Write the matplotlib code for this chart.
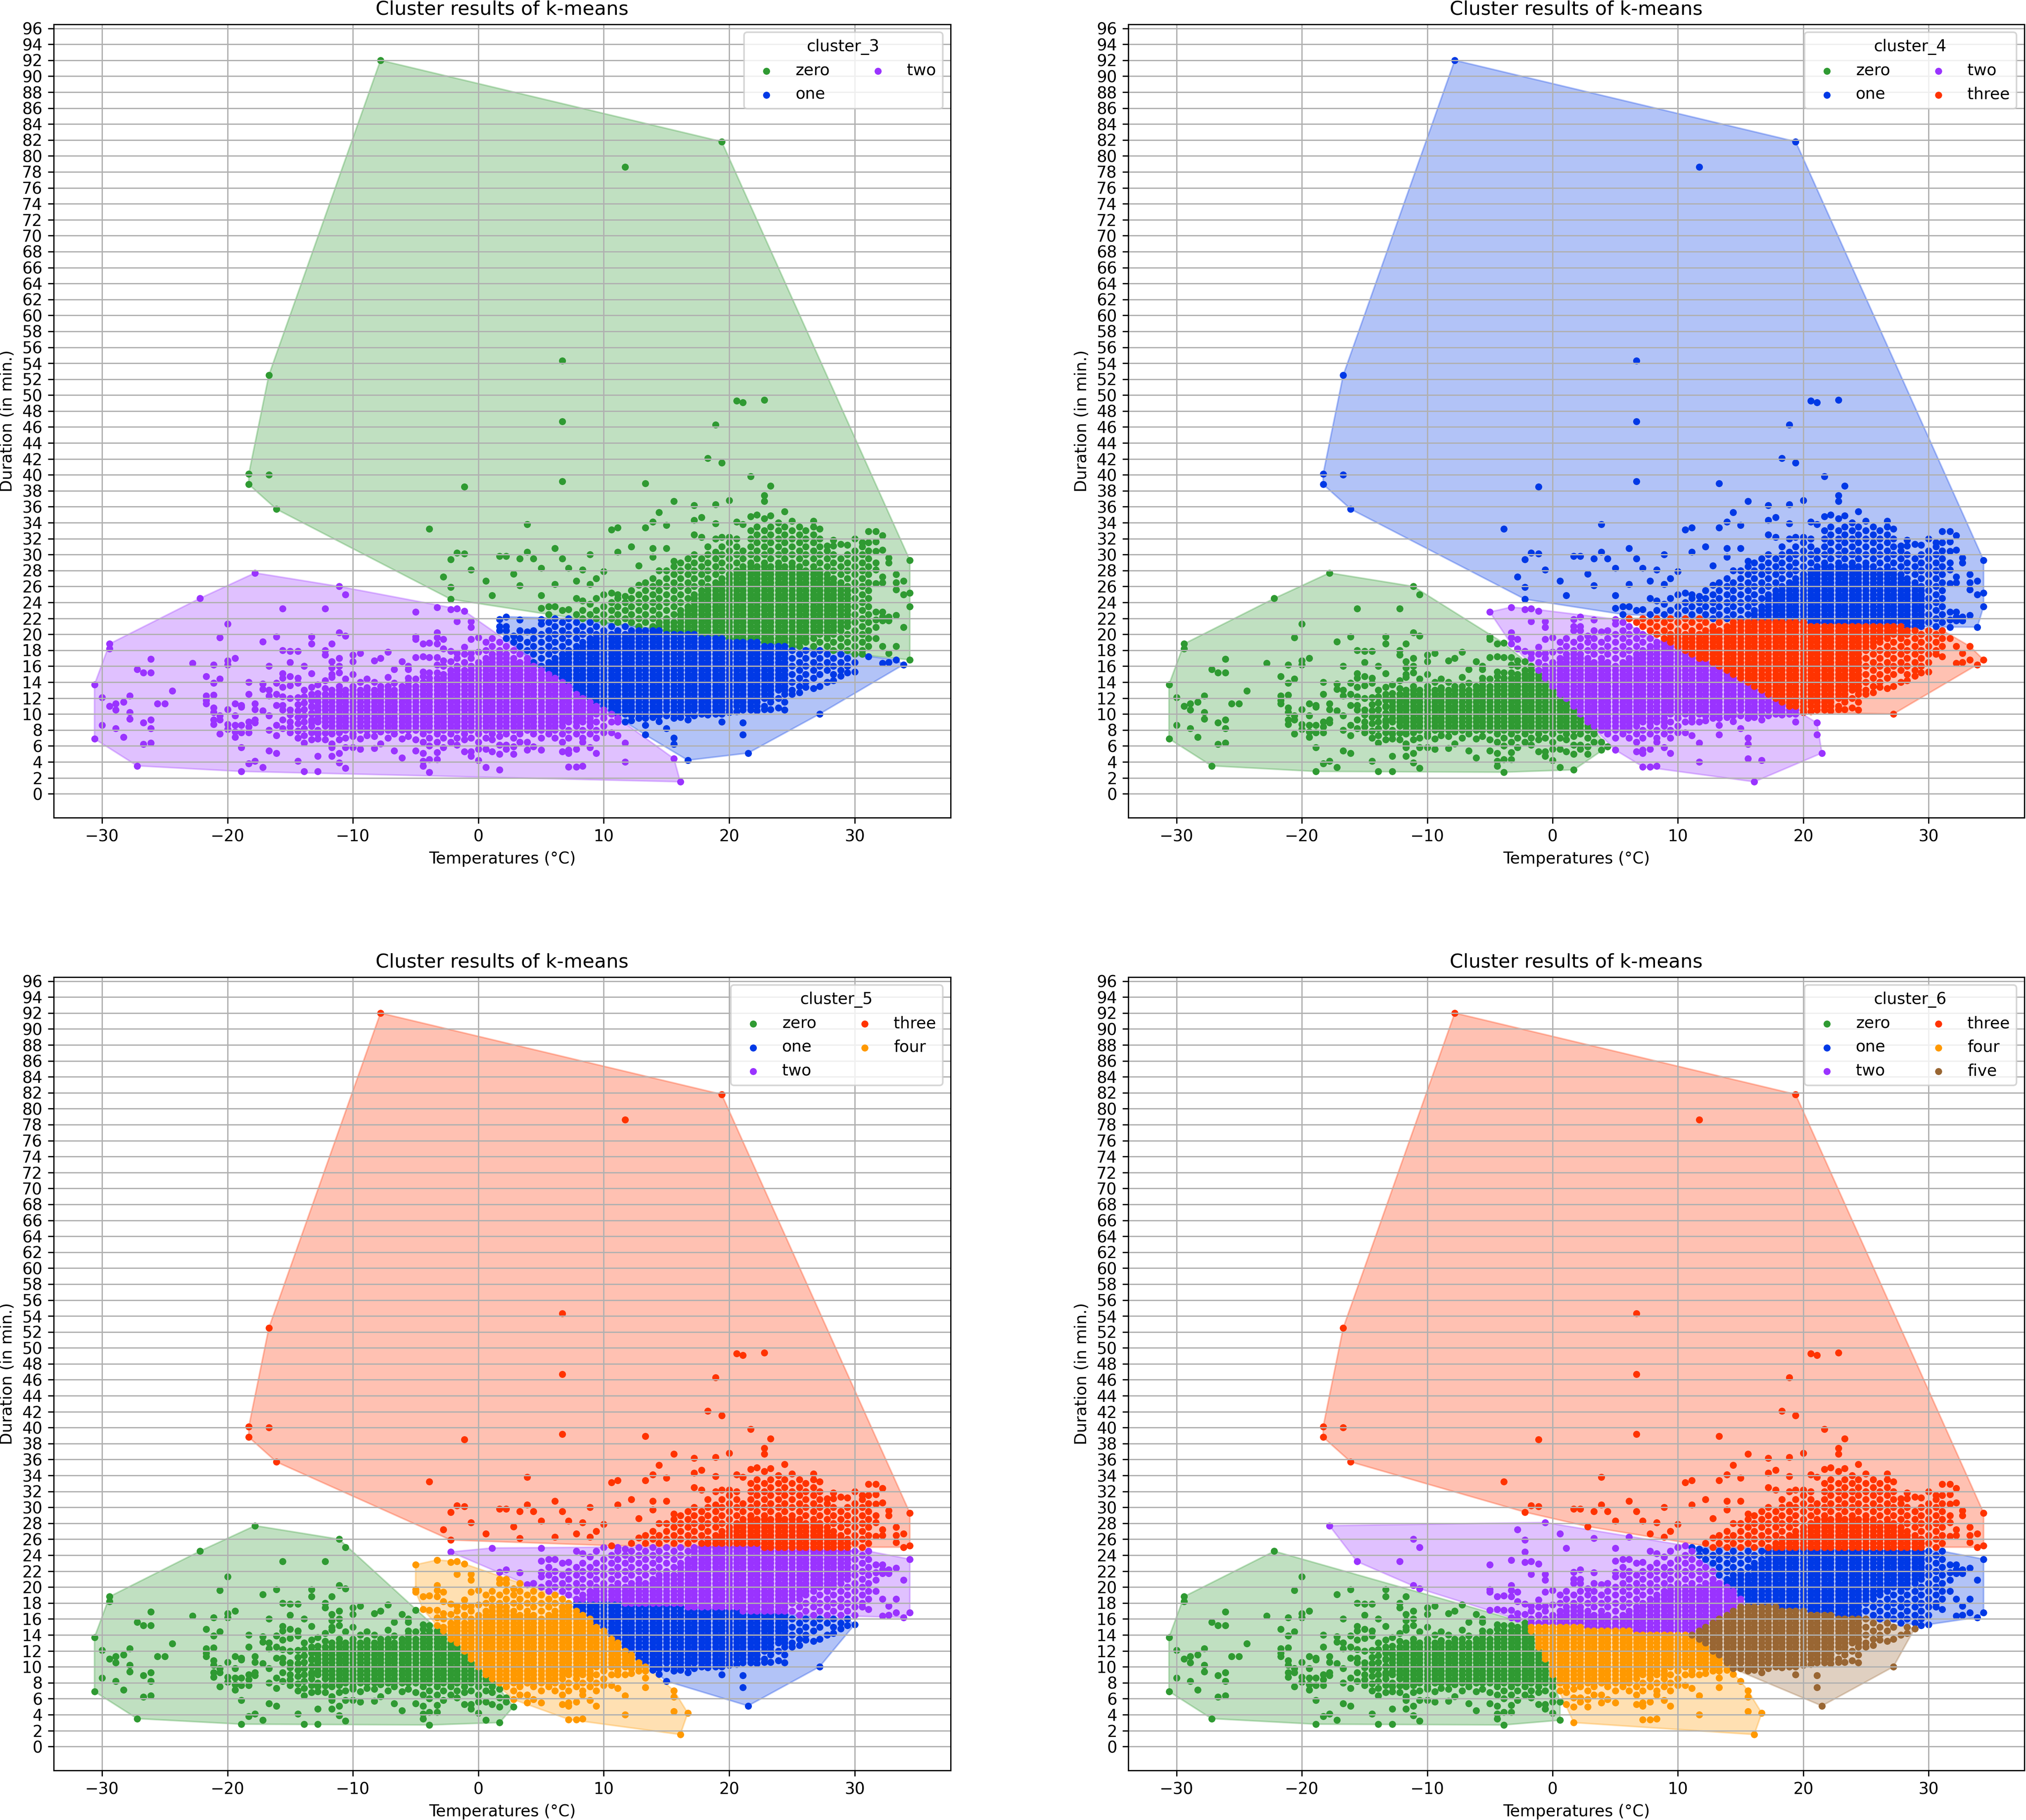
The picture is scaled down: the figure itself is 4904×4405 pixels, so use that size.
import numpy as np
import matplotlib
matplotlib.use('Agg')
import matplotlib.pyplot as plt

# rare long rides
rare_temps = [-7.8,19.4,11.7,6.7,-16.7,20.6,21.1,22.8,6.7,18.9,18.3,19.4,21.7,23.3,-18.3,-18.3,-16.7,-1.1,6.7,13.3,22.8,22.8,15.6,17.2,18.9,20,-16.1,14.4,-3.9,3.9,10.6,11.1,13.3,15,13.9,17.8,17.2,18.9,20.6,
              -2.2,-2.2,-2.8,-2.2,-1.7,-1.1,-0.6,0.6,1.1,1.7,2.2,2.8,3.3,3.9,4.4,3.3,5,5,6.1,6.1,6.7,7.2,7.8,8.3,8.9,8.9,9.4,10,12.2,11.1,12.8,13.9,13.9,15]
rare_durations = [92,81.8,78.6,54.3,52.5,49.3,49.1,49.4,46.7,46.3,42.1,41.5,39.8,38.6,40.1,38.8,40,38.5,39.2,38.9,37.4,36.7,36.7,36.2,36.3,36.8,35.7,35.3,33.2,33.8,33.1,33.4,33.4,33.7,34.1,34.7,34.3,33.9,34.1,
                  24.4,25.9,27.2,29.4,30.2,30.1,28.1,26.7,24.9,29.8,29.8,27.6,29.5,30.3,29.5,26.1,28.3,24.9,30.8,26.3,29.5,28.3,26.7,28.1,30,26.3,27,27.9,31,30.3,28.6,29.7,30.8,30.8]

# the temperature is recorded in whole Fahrenheit degrees, so points fall in columns
frigid_columns = [
    (-30.6,[6.9,13.7]),(-30,[8.6,12.1]),(-29.4,[11,18.2,18.8]),(-28.9,[8.2,10.5,11.3]),(-28.3,[7.1,11.5]),
    (-27.8,[9.4,10.2,12.3]),(-27.2,[3.5,15.6]),(-26.7,[6.2,8.9,15.2]),(-26.1,[6.4,8.2,9.3,15.2,16.9]),
    (-25.6,[11.3]),(-25,[11.3]),(-24.4,[12.9]),(-22.8,[16.4]),(-22.2,[24.5]),(-21.7,[11.3,11.7,12.3,14.7]),
    (-21.1,[8.7,9.3,10.2,10.8,12.4,13.9,16.2]),(-20.6,[7.5,9.3,9.8,14.4,19.6]),(-20,[8.1,8.7,10.6,16.2,16.7,21.3]),
    (-19.4,[7.1,7.8,8.6,9.8,11.3,17]),(-18.9,[2.8,5.8,7.7,8.6,10.9,11.1]),(-18.3,[3.8,7.7,8.4,9,12.5,14]),
    (-17.8,[4.1,8.9,9.3,10.6,11.3,27.7]),(-17.2,[3.3,10.4,13.1,13.8,19.1]),(-16.7,[5.4,8,9.8,12.3,13,16]),
    (-16.1,[5.1,7.3,8.6,11.1,12.5,13.9,19.7]),(-15.6,[8.2,9.3,10.5,11.1,12.2,13.4,14.5,15.1,18,23.2]),
    (-15,[7.7,8.4,9,9.9,10.5,12,13.6,14.7,16.5,17.9]),
]
cold_columns = [
    (-14.4,[4.1,7,7.9,8.8,9.6,10.4,11.2,12.1,13.9,14.5,17.9]),
    (-13.9,[2.8,6.4,7.3,8.2,9,9.8,10.6,11.4,12.2,13,16]),
    (-13.3,[6.8,7.7,8.5,9.3,10.1,10.9,11.7,12.5,13.4,15.1,18.8,19.7]),
    (-12.8,[2.8,4.7,6.9,7.5,8,9,10,11,12,12.6,13.7]),
    (-12.2,[6.8,7.6,8.5,9.5,10.5,11.5,12.5,13.2,14.2,17.4,18,23.2]),
    (-11.7,[4.7,5.8,6.3,7.5,8,9,10,11,12,13,14.6,15,15.8,16.6,18.8]),
    (-11.1,[3.9,5.1,6.8,7.7,8.5,9.5,10.5,11.5,12.5,13.5,15.2,16,17,20.2,26]),
    (-10.6,[3.2,5.8,7,8,9,10,11,12,13,14.4,19.8,25]),
    (-10,[5.8,7.2,7.5,8.5,9.5,10.5,11.5,12.5,13.5,15,16.6,17.4]),
    (-9.4,[5.6,6.9,8,9,10,11,12,13,14,17.6]),
    (-8.9,[7.3,8.5,9.5,10.5,11.5,12.5,13.3,14.4]),
    (-8.3,[5.7,7.2,8,9,10,11,12,13,14,16.7]),
    (-7.8,[6.3,7.8,8.5,9.5,10.5,11.5,12.5,13.5,17]),
    (-7.2,[7,8,9,10,11,12,13,14.6,17.8]),
    (-6.7,[5.4,7.5,8.5,9.5,10.5,11.5,12.5,13.9,15.6]),
    (-6.1,[4.5,6.9,8,9,10,11,12,13,16.6]),
    (-5.6,[7.2,8.5,9.5,10.5,11.5,12.5,13.5,14.5,15.6,16]),
    (-5,[5.4,6.8,8,9,10,11,12,13,14.4,17.1,19.4,19.7,22.8]),
    (-4.4,[3.5,4.1,5.1,6.5,7.5,8.5,9.5,10.5,11.5,12.5,13.5,14.7,15.3,17.2,18.8]),
    (-3.9,[2.7,4.3,6,7,8,9,10,11,12,13,14,15.2,17.1,18.9]),
    (-3.3,[4.3,5.2,6.5,7.5,8.5,9.5,10.5,11.5,12.5,13.5,14.5,15.2,16.2,17.1,18.8,19.6,20.2,23.4]),
    (-2.8,[5.8,7,8,9,10,11,12,13,14,15,16,16.7,18.2,19.4]),
    (-2.2,[6.5,7.5,8.5,9.5,10.5,11.5,12.5,13.5,14.5,15.5,16.6,17.9,23.1]),
    (-1.7,[6.1,7,8,9,10,11,12,13,14,15,16,17,17.6,21.6,23.2]),
    (-1.1,[5.3,6.8,7.5,8.5,9.5,10.5,11.5,12.5,13.5,14.5,15.5,16.5,17.5,18.4,22.9]),
    (-0.6,[4.7,5.3,7,8,9,10,11,12,13,14,15,16,17,17.6,19.4,20.9,21.6]),
]
mild_columns = [
    (0,[4.2,5.6,6.5,7.5,8.5,9.5,10.5,11.5,12.5,13.5,14.5,15.5,16.5,17.8,19.6]),
    (0.6,[3.3,5.6,7,8,9,10,11,12,13,14,15,16,17,18,19]),
    (1.1,[5.3,6.8,7.5,8.5,9.5,10.5,11.5,12.5,13.5,14.5,15.5,16.5,17.5,18.5,19.5]),
    (1.7,[3,5,6.1,7.2,8,9,10,11,12,13,14,15,16,17,18,19,20.5,21,21.9]),
    (2.2,[5.6,6.1,7.5,8.5,9.5,10.5,11.5,12.5,13.5,14.5,15.5,16.5,17.5,18.5,19.5,20.5,21,22.2]),
    (2.8,[5,5.9,7,8,9,10,11,12,13,14,15,16,17,18,19,19.8]),
    (3.3,[6.5,7.5,8.5,9.5,10.5,11.5,12.5,13.5,14.5,15.5,16.5,17.5,18.5,19.5,20.5,21.8]),
    (3.9,[5.5,6.5,8,9,10,11,12,13,14,15,16,17,18,19,20.3]),
    (4.4,[5.9,7.5,8.5,9.5,10.5,11.5,12.5,13.5,14.5,15.5,16.5,17.5,18.5,19.5,20.5]),
    (5,[5.5,7,8,9,10,11,12,13,14,15,16,17,18,19,20,21.3,21.9,23.3]),
    (5.6,[7.5,8.5,9.5,10.5,11.5,12.5,13.5,14.5,15.5,16.5,17.5,18.5,19.5,20.5,21.5,22.5,23.5]),
    (6.1,[7,8,9,10,11,12,13,14,15,16,17,18,19,20,21,22,23.5]),
    (6.7,[5.3,6.5,7.5,8.5,9.5,10.5,11.5,12.5,13.5,14.5,15.5,16.5,17.5,18.5,19.5,20.5,21.5,23]),
    (7.2,[3.4,5.1,5.5,7,8,9,10,11,12,13,14,15,16,17,18,19,20,21,22,23.1]),
    (7.8,[3.4,5.6,7.5,8.5,9.5,10.5,11.5,12.5,13.5,14.5,15.5,16.5,17.5,18.5,19.5,20.5,21.5,22.5,24.5]),
    (8.3,[3.5,6.5,7,8,9,10,11,12,13,14,15,16,17,18,19,20,21,22,23,24.2]),
    (8.9,[5.8,7.5,8.5,9.5,10.5,11.5,12.5,13.5,14.5,15.5,16.5,17.5,18.5,19.5,20.5,21.5,22.5,23.8]),
    (9.4,[5.1,7,8,9,10,11,12,13,14,15,16,17,18,19,20,21,22,23,24.5]),
    (10,[7.7,8.5,9.5,10.5,11.5,12.5,13.5,14.5,15.5,16.5,17.5,18.5,19.5,20.5,21.5,22.5,23.5,25]),
    (10.6,[7.7,9,10,11,12,13,14,15,16,17,18,19,20,21,22,23,24,25.2]),
    (11.1,[7.3,9,9.5,10.5,11.5,12.5,13.5,14.5,15.5,16.5,17.5,18.5,19.5,20.5,21.5,22.5,23.5,24.5,25]),
    (11.7,[4,6.4,9,10,11,12,13,14,15,16,17,18,19,20,21,22,23,24,24.8]),
    (12.2,[9.2,9.8,10.5,11.5,12.5,13.5,14.5,15.5,16.5,17.5,18.5,19.5,20.5,21.5,22.5,23.5,24.5,25.5]),
    (12.8,[9.5,10,11,12,13,14,15,16,17,18,19,20,21,22,23,24,25,26.2]),
    (13.3,[7.4,8.6,9.5,10.5,11.5,12.5,13.5,14.5,15.5,16.5,17.5,18.5,19.5,20.5,21.5,22.5,23.5,24.5,25.5,26.5]),
    (13.9,[9.6,10,11,12,13,14,15,16,17,18,19,20,21,22,23,24,25,26,27]),
    (14.4,[9.1,9.8,10.5,11.5,12.5,13.5,14.5,15.5,16.5,17.5,18.5,19.5,20.5,21.5,22.5,23.5,24.5,25.5,26.5,28]),
]
warm_columns = [
    (15,[8.2,9.8,11,12,13,14,15,16,17,18,19,20,21,22,23,24,25,26,27,28]),
    (15.6,[4.4,6.2,7,9.5,10.5,11.5,12.5,13.5,14.5,15.5,16.5,17.5,18.5,19.5,20.5,21.5,22.5,23.5,24.5,25.5,26.5,27.5,28.5,29.2]),
    (16.1,[1.5,9.6,10,11,12,13,14,15,16,17,18,19,20,21,22,23,24,25,26,27,28,29]),
    (16.7,[4.2,9.3,10.5,11.5,12.5,13.5,14.5,15.5,16.5,17.5,18.5,19.5,20.5,21.5,22.5,23.5,24.5,25.5,26.5,27.5,28.5,29.5]),
    (17.2,[9.8,11,12,13,14,15,16,17,18,19,20,21,22,23,24,25,26,27,28,29,30,32.5]),
    (17.8,[10,10.5,11.5,12.5,13.5,14.5,15.5,16.5,17.5,18.5,19.5,20.5,21.5,22.5,23.5,24.5,25.5,26.5,27.5,28.5,29.5,32.2]),
    (18.3,[9.9,10,11,12,13,14,15,16,17,18,19,20,21,22,23,24,25,26,27,28,29,30,31]),
    (18.9,[10,10.5,11.5,12.5,13.5,14.5,15.5,16.5,17.5,18.5,19.5,20.5,21.5,22.5,23.5,24.5,25.5,26.5,27.5,28.5,29.5,30.3,32]),
    (19.4,[9,10,11,12,13,14,15,16,17,18,19,20,21,22,23,24,25,26,27,28,29,30,31,32.2]),
    (20,[10.2,10.5,11.5,12.5,13.5,14.5,15.5,16.5,17.5,18.5,19.5,20.5,21.5,22.5,23.5,24.5,25.5,26.5,27.5,28.5,29.5,30.5,31.5,32.2]),
    (20.6,[10.3,11,12,13,14,15,16,17,18,19,20,21,22,23,24,25,26,27,28,29,30,31,32]),
    (21.1,[7.4,8.9,10.5,11.5,12.5,13.5,14.5,15.5,16.5,17.5,18.5,19.5,20.5,21.5,22.5,23.5,24.5,25.5,26.5,27.5,28.5,29.5,30.5,33.8]),
    (21.5,[5.1]),
    (21.7,[10.5,11,12,13,14,15,16,17,18,19,20,21,22,23,24,25,26,27,28,29,30,31,32,33,34.8]),
    (22.2,[10.4,11.5,12.5,13.5,14.5,15.5,16.5,17.5,18.5,19.5,20.5,21.5,22.5,23.5,24.5,25.5,26.5,27.5,28.5,29.5,30.5,31.5,32.5,33.5,35]),
    (22.8,[10.6,11,12,13,14,15,16,17,18,19,20,21,22,23,24,25,26,27,28,29,30,31,32,33,34.5]),
    (23.3,[10.6,11.5,12.5,13.5,14.5,15.5,16.5,17.5,18.5,19.5,20.5,21.5,22.5,23.5,24.5,25.5,26.5,27.5,28.5,29.5,30.5,31.5,32.5,33.5,34.9]),
    (23.9,[10.8,12,13,14,15,16,17,18,19,20,21,22,23,24,25,26,27,28,29,30,31,32,33,34]),
    (24.4,[10.5,11.5,12.5,13.5,14.5,15.5,16.5,17.5,18.5,19.5,20.5,21.5,22.5,23.5,24.5,25.5,26.5,27.5,28.5,29.5,30.5,31.5,32.5,33.5,35.4]),
]
hot_columns = [
    (25,[12.5,13,14,15,16,17,18,19,20,21,22,23,24,25,26,27,28,29,30,31,32,33,34.2]),
    (25.6,[12.7,13.5,14.5,15.5,16.5,17.5,18.5,19.5,20.5,21.5,22.5,23.5,24.5,25.5,26.5,27.5,28.5,29.5,30.5,31.5,32.5,33.5]),
    (26.1,[13.4,14,15,16,17,18,19,20,21,22,23,24,25,26,27,28,29,30,31,32,33]),
    (26.7,[13.2,14.5,15.5,16.5,17.5,18.5,19.5,20.5,21.5,22.5,23.5,24.5,25.5,26.5,27.5,28.5,29.5,30.5,31.5,32.5,33.5,34.2]),
    (27.2,[10,13.5,15,16,17,18,19,20,21,22,23,24,25,26,27,28,29,30,31,32,33.2]),
    (27.8,[14,15.5,16.5,17.5,18.5,19.5,20.5,21.5,22.5,23.5,24.5,25.5,26.5,27.5,28.5,29.5,30.5,31.1]),
    (28.3,[14.2,15,16,17,18,19,20,21,22,23,24,25,26,27,28,29,30,31.1,31.8]),
    (28.9,[14.8,15.5,16.5,17.5,18.5,19.5,20.5,21.5,22.5,23.5,24.5,25.5,26.5,27.5,28.5,29.5,31.3]),
    (29.4,[15.2,16,17,18,19,20,21,22,23,24,25,26,27,28,29,30,31.2]),
    (30,[15.3,16.5,17.5,18.5,19.5,20.5,21.5,22.5,23.5,24.5,25.5,26.5,27.5,28.5,29.5,30.5,32]),
    (30.6,[17.5,18,19,20,21,22,23,24,25,26,27,28,29,30,31,31.5]),
    (31.1,[17.2,18.5,19.5,20.5,21.5,22.5,23.5,24.5,25.5,26.5,27.5,28.5,29.5,30.5,31.5,32.9]),
    (31.7,[19.5,20.9,21.8,22.8,26.4,28.1,29,30.4,31.6,32.9]),
    (32.2,[16.4,18.5,21.7,22.2,22.8,26.5,27.2,30.6,32.4]),
    (32.7,[16.5,17.6,21.7,22.2,29,29.6]),
    (33.3,[16.8,18.5,22.4,25.6,26.5,27.5]),
    (33.9,[16.2,20.9,25,26.7]),
    (34.4,[16.8,23.5,25.2,29.3]),
]

# thick middle of the clouds, where the rides pile up on each other
cold_core = [
    (-13.3,[9,10,11,12]),(-12.8,[9.5,10.5,11.5]),(-12.2,[9,10,11,12]),(-11.7,[8.5,9.5,10.5,11.5,12.5]),
    (-11.1,[8,9,10,11,12,13]),(-10.6,[8.5,9.5,10.5,11.5,12.5]),(-10,[8,9,10,11,12,13]),(-9.4,[8.5,9.5,10.5,11.5,12.5]),
    (-8.9,[8,9,10,11,12,13]),(-8.3,[8.5,9.5,10.5,11.5,12.5]),(-7.8,[8,9,10,11,12,13]),(-7.2,[8.5,9.5,10.5,11.5,12.5,13.5]),
    (-6.7,[8,9,10,11,12,13]),(-6.1,[8.5,9.5,10.5,11.5,12.5,13.5]),(-5.6,[8,9,10,11,12,13,14]),(-5,[8.5,9.5,10.5,11.5,12.5,13.5]),
    (-4.4,[8,9,10,11,12,13,14]),(-3.9,[8.5,9.5,10.5,11.5,12.5,13.5,14.5]),(-3.3,[8,9,10,11,12,13,14]),(-2.8,[8.5,9.5,10.5,11.5,12.5,13.5,14.5]),
    (-2.2,[8,9,10,11,12,13,14,15]),(-1.7,[8.5,9.5,10.5,11.5,12.5,13.5,14.5,15.5]),(-1.1,[8,9,10,11,12,13,14,15]),(-0.6,[8.5,9.5,10.5,11.5,12.5,13.5,14.5,15.5]),
    (0,[8,9,10,11,12,13,14,15,16]),(0.6,[8.5,9.5,10.5,11.5,12.5,13.5,14.5,15.5,16.5]),(1.1,[8,9,10,11,12,13,14,15,16,17]),(1.7,[8.5,9.5,10.5,11.5,12.5,13.5,14.5,15.5,16.5,17.5]),
    (2.2,[8,9,10,11,12,13,14,15,16,17]),(2.8,[8.5,9.5,10.5,11.5,12.5,13.5,14.5,15.5,16.5]),(3.3,[8,9,10,11,12,13,14,15,16]),(3.9,[8.5,9.5,10.5,11.5,12.5,13.5,14.5,15.5,16.5]),
    (4.4,[8,9,10,11,12,13,14,15,16]),(5,[8.5,9.5,10.5,11.5,12.5,13.5,14.5,15.5]),(5.6,[8,9,10,11,12,13,14,15,16]),(6.1,[8.5,9.5,10.5,11.5,12.5,13.5,14.5,15.5,16.5]),
    (6.7,[9,10,11,12,13,14,15,16,17]),(7.2,[9.5,10.5,11.5,12.5,13.5,14.5,15.5,16.5,17.5]),(7.8,[9,10,11,12,13,14,15,16,17,18]),(8.3,[9.5,10.5,11.5,12.5,13.5,14.5,15.5,16.5,17.5,18.5]),
    (8.9,[9,10,11,12,13,14,15,16,17,18,19]),
]
warm_core = [
    (9.4,[10.5,11.5,12.5,13.5,14.5,15.5,16.5,17.5,18.5,19.5]),(10,[10,11,12,13,14,15,16,17,18,19,20]),(10.6,[10.5,11.5,12.5,13.5,14.5,15.5,16.5,17.5,18.5,19.5]),
    (11.1,[10,11,12,13,14,15,16,17,18,19,20]),(11.7,[10.5,11.5,12.5,13.5,14.5,15.5,16.5,17.5,18.5,19.5]),(12.2,[10,11,12,13,14,15,16,17,18,19,20]),
    (12.8,[10.5,11.5,12.5,13.5,14.5,15.5,16.5,17.5,18.5,19.5,20.5]),(13.3,[10,11,12,13,14,15,16,17,18,19,20]),(13.9,[10.5,11.5,12.5,13.5,14.5,15.5,16.5,17.5,18.5,19.5,20.5]),
    (14.4,[10,11,12,13,14,15,16,17,18,19,20,21]),(15,[10.5,11.5,12.5,13.5,14.5,15.5,16.5,17.5,18.5,19.5,20.5,21.5]),(15.6,[10,11,12,13,14,15,16,17,18,19,20,21]),
    (16.1,[10.5,11.5,12.5,13.5,14.5,15.5,16.5,17.5,18.5,19.5,20.5,21.5,22.5]),(16.7,[10,11,12,13,14,15,16,17,18,19,20,21,22,23]),
    (17.2,[10.5,11.5,12.5,13.5,14.5,15.5,16.5,17.5,18.5,19.5,20.5,21.5,22.5,23.5,24.5]),(17.8,[11,12,13,14,15,16,17,18,19,20,21,22,23,24,25]),
    (18.3,[10.5,11.5,12.5,13.5,14.5,15.5,16.5,17.5,18.5,19.5,20.5,21.5,22.5,23.5,24.5,25.5]),(18.9,[11,12,13,14,15,16,17,18,19,20,21,22,23,24,25,26]),
    (19.4,[10.5,11.5,12.5,13.5,14.5,15.5,16.5,17.5,18.5,19.5,20.5,21.5,22.5,23.5,24.5,25.5,26.5]),(20,[11,12,13,14,15,16,17,18,19,20,21,22,23,24,25,26,27]),
    (20.6,[11.5,12.5,13.5,14.5,15.5,16.5,17.5,18.5,19.5,20.5,21.5,22.5,23.5,24.5,25.5,26.5,27.5]),(21.1,[11,12,13,14,15,16,17,18,19,20,21,22,23,24,25,26,27,28]),
    (21.7,[11.5,12.5,13.5,14.5,15.5,16.5,17.5,18.5,19.5,20.5,21.5,22.5,23.5,24.5,25.5,26.5,27.5,28.5]),(22.2,[11,12,13,14,15,16,17,18,19,20,21,22,23,24,25,26,27,28]),
    (22.8,[12.5,13.5,14.5,15.5,16.5,17.5,18.5,19.5,20.5,21.5,22.5,23.5,24.5,25.5,26.5,27.5,28.5]),(23.3,[12,13,14,15,16,17,18,19,20,21,22,23,24,25,26,27,28]),
    (23.9,[13.5,14.5,15.5,16.5,17.5,18.5,19.5,20.5,21.5,22.5,23.5,24.5,25.5,26.5,27.5,28.5]),(24.4,[13,14,15,16,17,18,19,20,21,22,23,24,25,26,27,28]),
    (25,[18.5,19.5,20.5,21.5,22.5,23.5,24.5,25.5,26.5,27.5,28.5]),(25.6,[19,20,21,22,23,24,25,26,27,28]),(26.1,[19.5,20.5,21.5,22.5,23.5,24.5,25.5,26.5,27.5]),
    (26.7,[20,21,22,23,24,25,26,27,28]),(27.2,[20.5,21.5,22.5,23.5,24.5,25.5,26.5,27.5]),(27.8,[20,21,22,23,24,25,26,27]),(28.3,[20.5,21.5,22.5,23.5,24.5,25.5,26.5]),
    (28.9,[21,22,23,24,25,26]),(29.4,[21.5,22.5,23.5,24.5,25.5]),
]

# where one cluster stops and the next starts: (temperature knots, duration knots)
edge3_two_x, edge3_two_y = [1, 16, 30], [20, 4.5, -10]
edge3_top_x, edge3_top_y = [-18, -2], [28.5, 24.3]
edge3_zero_x, edge3_zero_y = [-2, 34.4], [23.9, 16.6]

edge4_one_x, edge4_one_y = [-20, -3, 5, 34.4], [31, 24.2, 22.5, 20.6]
edge4_zero_x, edge4_zero_y = [-12, -5, 4, 8], [32, 21.5, 7, 1]
edge4_three_x, edge4_three_y = [5, 20, 30], [22.5, 10, 2]

edge5_three_x, edge5_three_y = [-20, -2, 34.4], [31, 25.2, 24.9]
edge5_zero_x, edge5_zero_y = [-12, -5.2, 2.5, 7], [34, 18, 6, 0]
edge5_two_x, edge5_two_y = [-6, 7, 30, 34.4], [26, 18.5, 16, 15.6]
edge5_one_x, edge5_one_y = [7, 15, 19, 25], [18.5, 8, 3, 0]

edge6_three_x, edge6_three_y = [-20, -1.5, 11.5, 34.4], [35.7, 28.7, 25, 24.9]
edge6_zero_x, edge6_zero_y = [-24, -2, 1.7, 6], [26.3, 15.5, 3, -10]
edge6_one_x, edge6_one_y = [11, 15.5, 30, 34.4], [25, 18, 15, 14]
edge6_four_x, edge6_four_y = [-2, 11, 15.8, 19, 25], [15.5, 14, 8, 2, -3]
edge6_five_x, edge6_five_y = [11, 15.5], [14, 18]

names = ['zero', 'one', 'two', 'three', 'four', 'five']
colors = ['#2f9a32', '#0039e6', '#9a33ff', '#ff3300', '#ff9900', '#996633']
y_ticks = list(range(0, 98, 2))

columns = frigid_columns + cold_columns + mild_columns + warm_columns + hot_columns + cold_core + warm_core
temps = np.array(rare_temps + [t for t, ds in columns for d in ds], dtype=float)
durations = np.array(rare_durations + [d for t, ds in columns for d in ds], dtype=float)


def clusters_3(t, d):
    lab = np.ones(len(t), dtype=int)
    lab[d > np.interp(t, edge3_zero_x, edge3_zero_y)] = 0
    two = (d < np.interp(t, edge3_two_x, edge3_two_y, left=99)) & (d < np.interp(t, edge3_top_x, edge3_top_y))
    two = two | ((t < -2) & (d < np.interp(t, edge3_top_x, edge3_top_y)))
    lab[two] = 2
    return lab


def clusters_4(t, d):
    lab = np.full(len(t), 2)
    lab[d > np.interp(t, edge4_three_x, edge4_three_y, left=99)] = 3
    lab[d < np.interp(t, edge4_zero_x, edge4_zero_y, left=99, right=-99)] = 0
    lab[d > np.interp(t, edge4_one_x, edge4_one_y)] = 1
    return lab


def clusters_5(t, d):
    lab = np.full(len(t), 4)
    lab[d > np.interp(t, edge5_one_x, edge5_one_y, left=99, right=-99)] = 1
    lab[d > np.interp(t, edge5_two_x, edge5_two_y)] = 2
    lab[d < np.interp(t, edge5_zero_x, edge5_zero_y, left=99, right=-99)] = 0
    lab[d > np.interp(t, edge5_three_x, edge5_three_y)] = 3
    return lab


def clusters_6(t, d):
    lab = np.full(len(t), 2)
    lab[(t >= 11) & (d < np.interp(t, edge6_five_x, edge6_five_y))] = 5
    lab[d < np.interp(t, edge6_four_x, edge6_four_y, right=-99)] = 4
    lab[d > np.interp(t, edge6_one_x, edge6_one_y, left=99)] = 1
    lab[d < np.interp(t, edge6_zero_x, edge6_zero_y, left=99, right=-99)] = 0
    lab[d > np.interp(t, edge6_three_x, edge6_three_y)] = 3
    return lab


def convex_hull(pts):
    pts = sorted(set(pts))
    def half(seq):
        out = []
        for p in seq:
            while len(out) > 1 and (out[-1][0]-out[-2][0])*(p[1]-out[-2][1]) - (out[-1][1]-out[-2][1])*(p[0]-out[-2][0]) <= 0:
                out.pop()
            out.append(p)
        return out
    low = half(pts)
    up = half(pts[::-1])
    return low[:-1] + up[:-1]


W, H = 4904, 4405
DPI = 280
fig = plt.figure(figsize=(W/DPI, H/DPI), dpi=DPI)
boxes = [(130, 59, 2301, 1979), (2731, 59, 4900, 1979), (130, 2365, 2301, 4285), (2731, 2365, 4900, 4285)]
assigners = [clusters_3, clusters_4, clusters_5, clusters_6]

for k, box, assign in zip([3, 4, 5, 6], boxes, assigners):
    l, t, r, b = box
    ax = fig.add_axes([l/W, 1-b/H, (r-l)/W, (b-t)/H])
    lab = assign(temps, durations)
    for i in range(k):
        mask = lab == i
        hull = convex_hull(list(zip(temps[mask], durations[mask])))
        ax.fill([p[0] for p in hull], [p[1] for p in hull], color=colors[i], alpha=0.3)
    for i in range(k):
        mask = lab == i
        ax.scatter(temps[mask], durations[mask], s=19, color=colors[i], linewidths=0, label=names[i])
    ax.set_xlim(-33.85, 37.65)
    ax.set_ylim(-3, 96.5)
    ax.set_yticks(y_ticks)
    ax.grid(True)
    ax.set_title('Cluster results of k-means')
    ax.set_xlabel('Temperatures (°C)')
    ax.set_ylabel('Duration (in min.)')
    ax.legend(title='cluster_%d' % k, ncol=2, loc='upper right')

fig.savefig('out.png', dpi=DPI)
